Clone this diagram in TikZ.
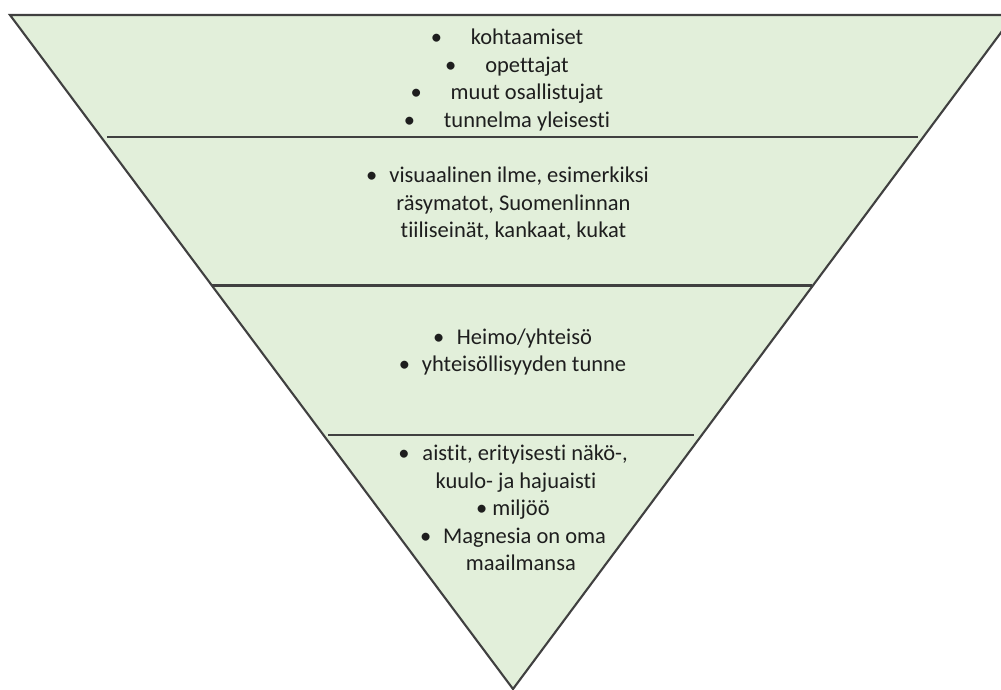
\documentclass[tikz,border=0pt]{standalone}
\usepackage{fontspec}
\setmainfont{Carlito}[Ligatures=NoCommon]
\usepackage{xcolor}
\usepackage{tikz}
\usetikzlibrary{positioning,calc}
\definecolor{pyrGreen}{RGB}{226,239,218}
\definecolor{pyrLine}{RGB}{64,64,64}
\definecolor{pyrText}{RGB}{30,30,30}
\newcommand{\blt}[1]{\textbullet\hspace{#1}}

\begin{document}
\begin{tikzpicture}[font=\fontsize{6.4}{7.8}\selectfont]
\tikzstyle{edge}=[draw=pyrLine, line width=0.6pt]
\tikzstyle{txt}=[align=center, inner sep=0pt, text=pyrText]
\useasboundingbox (0,0) rectangle (10.01,6.89);

% outer triangle
\coordinate (tl) at (0.10,6.74);
\coordinate (tr) at (10.14,6.74);
\coordinate (tip) at (5.13,0.00);
\filldraw[edge, fill=pyrGreen] (tl) -- (tr) -- (tip) -- cycle;

% dividers
\draw[edge] (1.07,5.52) -- (9.18,5.52);
\draw[edge] (2.12,4.035) -- (8.12,4.035);
\draw[edge] (3.28,2.54) -- (6.94,2.54);

% levels
\node[txt] (meet) at (5.07,6.09) {\blt{8.2pt}kohtaamiset\\ \blt{8.2pt}opettajat\\ \blt{8.2pt}muut osallistujat\\ \blt{8.2pt}tunnelma yleisesti};
\node[txt] (visual) at (5.075,4.85) {\blt{3.4pt}visuaalinen ilme, esimerkiksi\\ \hspace*{3.4pt}räsymatot, Suomenlinnan\\ \hspace*{3.4pt}tiiliseinät, kankaat, kukat};
\node[txt] (tribe) at (5.125,3.37) {\blt{3.6pt}Heimo/yhteisö\\ \blt{3.4pt}yhteisöllisyyden tunne};
\node[txt] (senses) at (5.13,1.81) {\blt{3.7pt}aistit, erityisesti näkö-,\\ \hspace*{1.7pt}kuulo- ja hajuaisti\\ \blt{1.4pt}miljöö\hspace*{3.7pt}\\ \blt{3.4pt}Magnesia on oma\\ \hspace*{4.5pt}maailmansa};
\end{tikzpicture}
\end{document}
